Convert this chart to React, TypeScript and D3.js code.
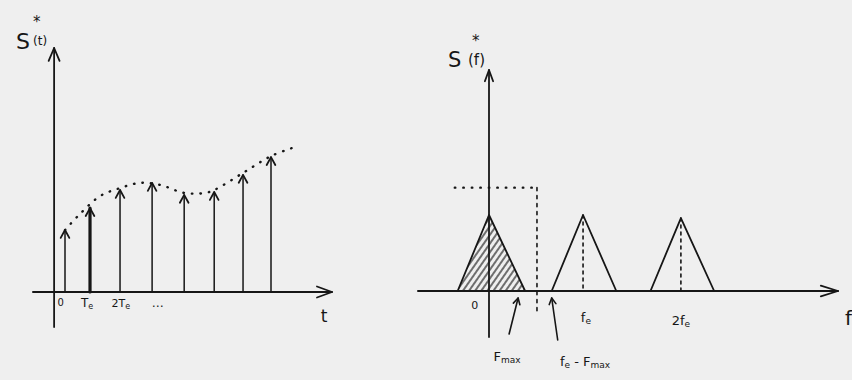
import React from "react";
import * as d3 from "d3";

// Sampled signal s*(t): sample instants (in units of Te) and amplitudes
const sampleTimes = [0, 0.85, 1.87, 2.96, 4.05, 5.07, 6.05, 7.0];
const sampleValues = [2.54, 3.44, 4.18, 4.47, 3.98, 4.1, 4.8, 5.53];

// Continuous signal s(t) drawn as a dotted envelope through the samples
const envelopeTimes = [0, 0.51, 1.19, 1.87, 2.55, 3.23, 4.05, 4.76, 5.07, 6.05, 7.0, 7.82];
const envelopeValues = [2.54, 3.2, 3.93, 4.26, 4.47, 4.39, 4.06, 4.06, 4.18, 4.88, 5.57, 5.94];

// Spectrum S*(f): replicas of the baseband spectrum around 0, fe, 2fe (f in units of fe)
const spectrumCenters = [0, 0.99, 2.02];
const spectrumLefts = [-0.33, 0.66, 1.7];
const spectrumRights = [0.38, 1.34, 2.37];
const spectrumPeaks = [1, 1, 0.96];

// Dotted ideal low-pass window
const windowLeft = -0.36;
const windowRight = 0.505;
const windowLevel = 1.36;

const ink = "#161616";
const font = "'DejaVu Sans', sans-serif";

function openArrow(x: number, y: number, angle: number, size = 10, spread = 0.42) {
  const a1 = angle + Math.PI - spread;
  const a2 = angle + Math.PI + spread;
  return `M${x + size * Math.cos(a1)},${y + size * Math.sin(a1)}L${x},${y}L${x + size * Math.cos(a2)},${y + size * Math.sin(a2)}`;
}

export default function App() {
  // time-domain panel
  const xT = d3.scaleLinear().domain([0, 7]).range([65, 271]);
  const yT = d3.scaleLinear().domain([0, 10]).range([292, 48]);
  const yAxisT = xT(-0.37);
  const envelope = d3
    .line<number>()
    .x((_, i) => xT(envelopeTimes[i]))
    .y((d) => yT(d))
    .curve(d3.curveCatmullRom)(envelopeValues) as string;

  // frequency-domain panel
  const xF = d3.scaleLinear().domain([0, 1]).range([489, 584]);
  const yF = d3.scaleLinear().domain([0, 1]).range([291, 215]);
  const tri = (i: number) =>
    `M${xF(spectrumLefts[i])},${yF(0)}L${xF(spectrumCenters[i])},${yF(spectrumPeaks[i])}L${xF(spectrumRights[i])},${yF(0)}`;

  const up = -Math.PI / 2;

  return (
    <svg width={852} height={380} style={{ position: "absolute", left: 0, top: 0, display: "block" }}>
      <defs>
        <pattern id="hatch" patternUnits="userSpaceOnUse" width={5} height={5} patternTransform="rotate(35)">
          <line x1={1} y1={0} x2={1} y2={5} stroke={ink} strokeWidth={1.2} />
        </pattern>
        <clipPath id="baseband">
          <path d={tri(0) + "Z"} />
        </clipPath>
      </defs>
      <rect width={852} height={380} fill="#efefef" />

      <g stroke={ink} fill="none" strokeLinecap="round" strokeLinejoin="round">
        {/* ---- s*(t) ---- */}
        <line x1={yAxisT} y1={327} x2={yAxisT} y2={yT(10)} strokeWidth={1.8} />
        <path d={openArrow(yAxisT, yT(10), up, 14, 0.4)} strokeWidth={1.8} />
        <line x1={33} y1={yT(0)} x2={332} y2={yT(0)} strokeWidth={2} />
        <path d={openArrow(332, yT(0), 0, 16, 0.35)} strokeWidth={1.8} />

        <path d={envelope} strokeWidth={2.4} strokeDasharray="0.5 8" />

        {sampleTimes.map((t, i) => (
          <g key={i} strokeWidth={i === 1 ? 3.2 : 1.5}>
            <line x1={xT(t)} y1={yT(0)} x2={xT(t)} y2={yT(sampleValues[i])} />
            <path d={openArrow(xT(t), yT(sampleValues[i]), up, 9, 0.5)} strokeWidth={1.8} />
          </g>
        ))}

        {/* ---- S*(f) ---- */}
        <line x1={xF(0)} y1={337} x2={xF(0)} y2={70} strokeWidth={1.8} />
        <path d={openArrow(xF(0), 70, up, 12, 0.35)} strokeWidth={1.8} />
        <line x1={418} y1={yF(0)} x2={838} y2={yF(0)} strokeWidth={2} />
        <path d={openArrow(838, yF(0), 0, 18, 0.3)} strokeWidth={1.8} />

        <rect
          x={xF(spectrumLefts[0])}
          y={yF(1)}
          width={xF(spectrumRights[0]) - xF(spectrumLefts[0])}
          height={yF(0) - yF(1)}
          fill="url(#hatch)"
          stroke="none"
          clipPath="url(#baseband)"
        />
        {spectrumCenters.map((_, i) => (
          <path key={i} d={tri(i)} strokeWidth={1.8} />
        ))}
        {spectrumCenters.slice(1).map((c, i) => (
          <line
            key={i}
            x1={xF(c)}
            y1={yF(spectrumPeaks[i + 1])}
            x2={xF(c)}
            y2={yF(0)}
            strokeWidth={1.6}
            strokeDasharray="3 4"
          />
        ))}

        <line
          x1={xF(windowLeft)}
          y1={yF(windowLevel)}
          x2={xF(windowRight)}
          y2={yF(windowLevel)}
          strokeWidth={2.4}
          strokeDasharray="0.5 8"
        />
        <line
          x1={xF(windowRight)}
          y1={yF(windowLevel)}
          x2={xF(windowRight)}
          y2={yF(-0.29)}
          strokeWidth={1.6}
          strokeDasharray="3 5"
        />

        {/* annotation arrows */}
        <line x1={xF(spectrumRights[0]) - 16} y1={334} x2={xF(spectrumRights[0]) - 7} y2={298} strokeWidth={1.6} />
        <path d={openArrow(xF(spectrumRights[0]) - 7, 298, Math.atan2(-36, 9), 7, 0.5)} strokeWidth={1.6} />
        <line x1={xF(spectrumLefts[1]) + 6} y1={340} x2={xF(spectrumLefts[1])} y2={298} strokeWidth={1.6} />
        <path d={openArrow(xF(spectrumLefts[1]), 298, Math.atan2(-42, -6), 7, 0.5)} strokeWidth={1.6} />
      </g>

      <g fill={ink} fontFamily={font}>
        {/* time-domain labels */}
        <text x={16} y={49} fontSize={22}>S</text>
        <text x={33} y={27} fontSize={15}>*</text>
        <text x={33} y={45} fontSize={12}>(t)</text>
        <text x={xT(-0.15)} y={306} fontSize={10} textAnchor="middle">0</text>
        <text x={xT(0.75)} y={307} fontSize={12} textAnchor="middle">
          T<tspan fontSize={8} dy={2}>e</tspan>
        </text>
        <text x={xT(1.9)} y={307} fontSize={11} textAnchor="middle">
          2T<tspan fontSize={8} dy={2}>e</tspan>
        </text>
        <text x={xT(3.15)} y={307} fontSize={12} textAnchor="middle">…</text>
        <text x={324} y={322} fontSize={17} textAnchor="middle">t</text>

        {/* frequency-domain labels */}
        <text x={448} y={67} fontSize={21}>S</text>
        <text x={472} y={46} fontSize={15}>*</text>
        <text x={468} y={65} fontSize={15}>(f)</text>
        <text x={xF(-0.15)} y={309} fontSize={11} textAnchor="middle">0</text>
        <text x={xF(1.02)} y={322} fontSize={13} textAnchor="middle">
          f<tspan fontSize={9} dy={2}>e</tspan>
        </text>
        <text x={xF(2.02)} y={325} fontSize={13} textAnchor="middle">
          2f<tspan fontSize={9} dy={2}>e</tspan>
        </text>
        <text x={507} y={361} fontSize={13} textAnchor="middle">
          F<tspan fontSize={9} dy={2}>max</tspan>
        </text>
        <text x={585} y={366} fontSize={13} textAnchor="middle">
          f<tspan fontSize={9} dy={2}>e</tspan>
          <tspan dy={-2}> - F</tspan>
          <tspan fontSize={9} dy={2}>max</tspan>
        </text>
        <text x={845} y={325} fontSize={20}>f</text>
      </g>
    </svg>
  );
}
